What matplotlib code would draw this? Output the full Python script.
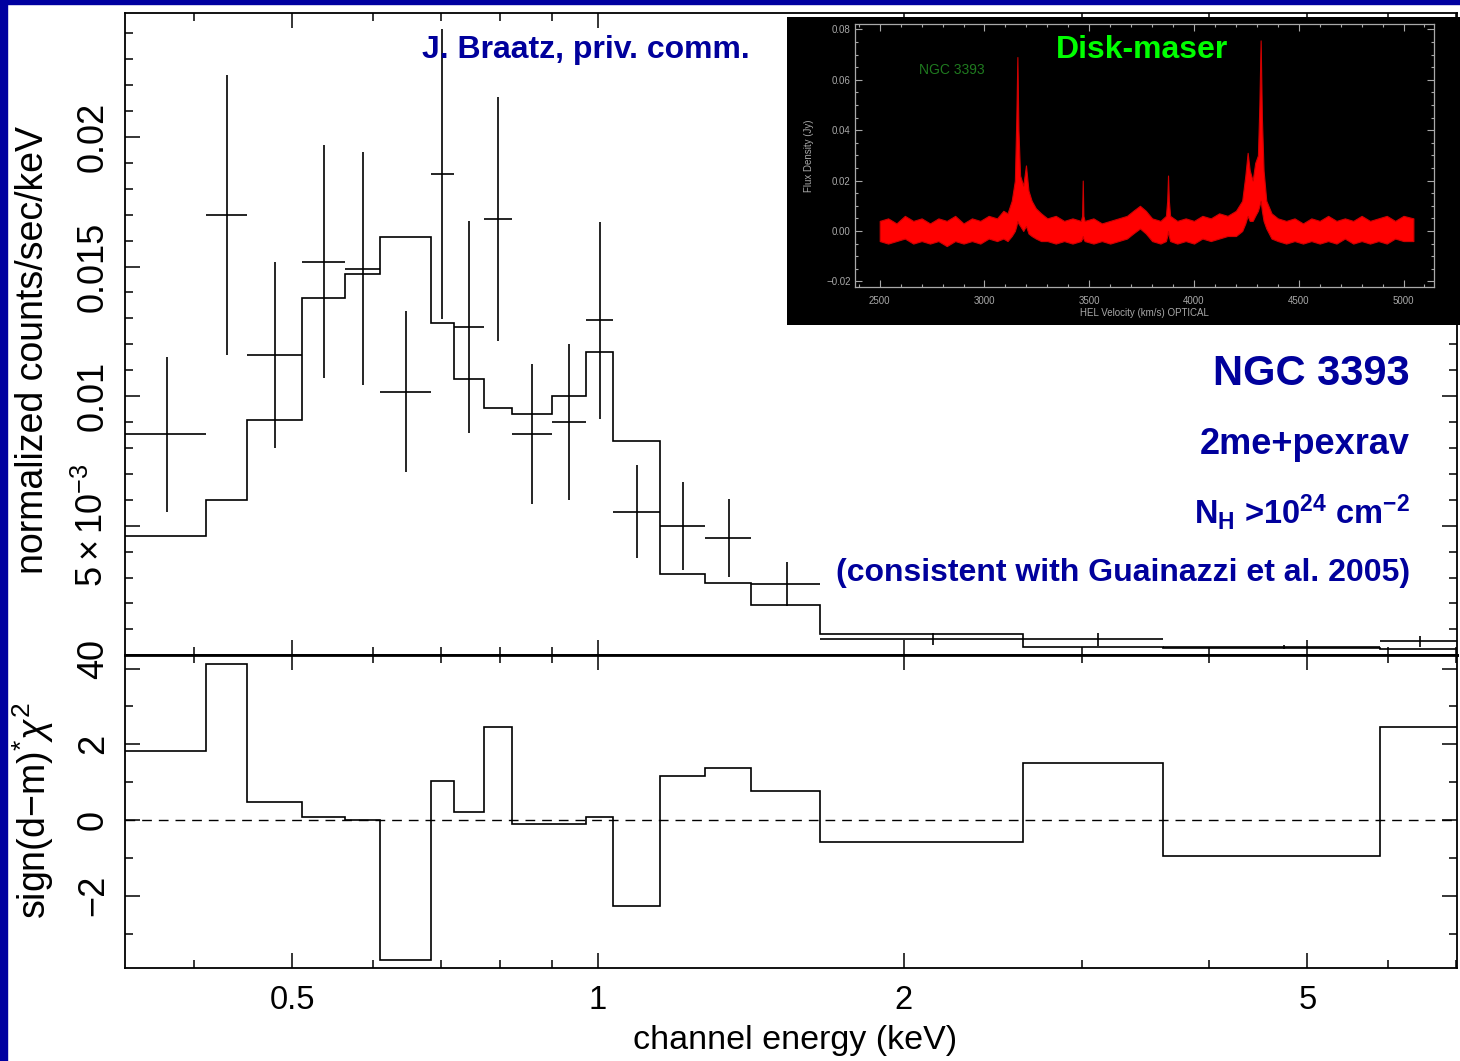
import matplotlib
matplotlib.use("Agg")
import matplotlib.pyplot as plt
from matplotlib.patches import Rectangle
from matplotlib.ticker import FixedLocator, NullFormatter, FixedFormatter
from matplotlib.transforms import ScaledTranslation

plt.rcParams['font.family'] = ['Liberation Sans', 'DejaVu Sans']
plt.rcParams['mathtext.fontset'] = 'custom'
plt.rcParams['mathtext.rm'] = 'Liberation Sans'
plt.rcParams['mathtext.it'] = 'Liberation Sans:italic'
plt.rcParams['mathtext.bf'] = 'Liberation Sans:bold'
plt.rcParams['mathtext.default'] = 'regular'

# XMM spectrum of NGC 3393: channel bins (keV), data, errors, model, residuals
edges = [0.342, 0.411, 0.451, 0.511, 0.563, 0.610, 0.684, 0.721, 0.772, 0.822,
         0.901, 0.973, 1.034, 1.152, 1.276, 1.416, 1.654, 2.62, 3.60, 5.89, 7.02]
counts = [0.00852, 0.01698, 0.01158, 0.01518, 0.01491, 0.01017, 0.01858, 0.01266,
          0.01684, 0.00853, 0.00900, 0.01292, 0.00554, 0.00499, 0.00452, 0.00275,
          0.00063, 0.00061, 0.00031, 0.00054]
counts_err = [0.0030, 0.0054, 0.0036, 0.0045, 0.0045, 0.0031, 0.0056, 0.0041,
              0.0047, 0.0027, 0.0030, 0.0038, 0.0018, 0.0017, 0.0015, 0.00085,
              0.00022, 0.00025, 0.00008, 0.00022]
model = [0.00459, 0.00600, 0.00906, 0.01377, 0.01470, 0.01613, 0.01281, 0.01066,
         0.00956, 0.00931, 0.00999, 0.01172, 0.00826, 0.00314, 0.00280, 0.00195,
         0.00082, 0.00033, 0.00028, 0.00024]
resid = [1.82, 4.13, 0.48, 0.09, 0.01, -3.69, 1.04, 0.22, 2.45, -0.10,
         -0.10, 0.09, -2.27, 1.17, 1.37, 0.77, -0.59, 1.50, -0.96, 2.46]

# maser spectrum (inset): velocity (km/s) and upper / lower envelope of the noisy trace (Jy)
vel = [2500, 2540, 2580, 2620, 2660, 2700, 2740, 2780, 2820, 2860, 2900, 2940, 2980,
       3020, 3060, 3090, 3110, 3130, 3145, 3152, 3157, 3162, 3170, 3185, 3198, 3210,
       3225, 3245, 3270, 3300, 3340, 3380, 3420, 3460, 3466, 3469, 3472, 3478, 3520,
       3560, 3600, 3640, 3680, 3710, 3742, 3770, 3800, 3840, 3866, 3872, 3876, 3880,
       3886, 3920, 3960, 4000, 4040, 4080, 4120, 4160, 4200, 4230, 4245, 4256, 4266,
       4280, 4292, 4305, 4312, 4318, 4324, 4332, 4345, 4370, 4400, 4440, 4480, 4520,
       4560, 4600, 4640, 4680, 4720, 4760, 4800, 4840, 4880, 4920, 4960, 5000, 5047]
flux_hi = [0.004, 0.005, 0.003, 0.006, 0.004, 0.005, 0.003, 0.005, 0.004, 0.006,
           0.003, 0.005, 0.004, 0.006, 0.005, 0.008, 0.007, 0.012, 0.020, 0.045,
           0.069, 0.040, 0.022, 0.018, 0.026, 0.016, 0.012, 0.009, 0.007, 0.005,
           0.006, 0.004, 0.005, 0.004, 0.006, 0.020, 0.006, 0.004, 0.005, 0.003,
           0.004, 0.005, 0.006, 0.008, 0.010, 0.008, 0.005, 0.004, 0.006, 0.012,
           0.022, 0.012, 0.006, 0.004, 0.005, 0.004, 0.006, 0.005, 0.007, 0.006,
           0.008, 0.012, 0.022, 0.031, 0.024, 0.020, 0.027, 0.030, 0.050, 0.0756,
           0.045, 0.024, 0.012, 0.007, 0.005, 0.004, 0.005, 0.003, 0.005, 0.004,
           0.006, 0.004, 0.005, 0.004, 0.006, 0.004, 0.005, 0.006, 0.004, 0.006,
           0.005]
flux_lo = [-0.004, -0.005, -0.004, -0.003, -0.005, -0.004, -0.005, -0.004, -0.006,
           -0.004, -0.005, -0.004, -0.005, -0.003, -0.004, -0.003, -0.004, -0.002,
           0.000, 0.002, 0.004, 0.003, 0.002, 0.000, 0.002, -0.001, -0.002, -0.003,
           -0.004, -0.004, -0.005, -0.004, -0.005, -0.004, -0.003, -0.002, -0.003,
           -0.004, -0.005, -0.004, -0.005, -0.004, -0.003, -0.001, 0.001, -0.001,
           -0.004, -0.005, -0.004, -0.002, 0.000, -0.002, -0.004, -0.005, -0.004,
           -0.005, -0.003, -0.004, -0.003, -0.002, -0.002, 0.000, 0.003, 0.006,
           0.004, 0.004, 0.006, 0.008, 0.010, 0.012, 0.008, 0.004, 0.001, -0.003,
           -0.004, -0.005, -0.004, -0.005, -0.004, -0.005, -0.004, -0.005, -0.003,
           -0.005, -0.004, -0.005, -0.004, -0.005, -0.003, -0.004, -0.004]

W, H = 1460, 1061
fig = plt.figure(figsize=(W / 100, H / 100), dpi=100)
navy = '#00009c'

# blue slide border (top and left)
fig.patches.append(Rectangle((0, 0), 7 / W, 1, transform=fig.transFigure, color='#0000a0', zorder=0))
fig.patches.append(Rectangle((0, 1 - 4 / H), 1, 4 / H, transform=fig.transFigure, color='#0000a0', zorder=0))


def fx(px):
    return px / W


def fy(py):
    return 1 - py / H


x0, x1 = fx(125), fx(1457)
ytop, ymid, ybot = fy(12.5), fy(655.3), fy(968.3)
ax1 = fig.add_axes([x0, ymid, x1 - x0, ytop - ymid])
ax2 = fig.add_axes([x0, ybot, x1 - x0, ymid - ybot], sharex=ax1)

lw = 1.2
centers = [(a + b) / 2 for a, b in zip(edges[:-1], edges[1:])]
xlo = [c - a for c, a in zip(centers, edges[:-1])]
xhi = [b - c for c, b in zip(centers, edges[1:])]

ax1.errorbar(centers, counts, yerr=counts_err, xerr=[xlo, xhi], fmt='none',
             ecolor='black', elinewidth=lw, capsize=0)
ax1.stairs(model, edges, baseline=None, color='black', lw=lw)
ax2.stairs(resid, edges, baseline=None, color='black', lw=lw)
ax2.axhline(0, color='black', lw=1.0, dashes=(7, 5))

ax1.set_xscale('log')
ax1.set_xlim(edges[0], edges[-1])
ax1.set_ylim(0, 0.0248)
ax2.set_ylim(-3.918, 4.351)

for ax in (ax1, ax2):
    for s in ax.spines.values():
        s.set_linewidth(1.3)
    ax.tick_params(which='both', direction='in', top=True, right=True, width=1.1)
    ax.tick_params(which='major', length=11)
    ax.tick_params(which='minor', length=5.5)
    ax.xaxis.set_major_locator(FixedLocator([0.5, 1, 2, 5]))
    ax.xaxis.set_minor_locator(FixedLocator([0.4, 0.6, 0.7, 0.8, 0.9, 3, 4, 6, 7]))
    ax.xaxis.set_minor_formatter(NullFormatter())
ax1.spines['bottom'].set_linewidth(2.0)
ax2.spines['top'].set_linewidth(2.0)

ax1.tick_params(axis='x', labelbottom=False)
ax2.xaxis.set_major_formatter(FixedFormatter(['0.5', '1', '2', '5']))
ax2.tick_params(axis='x', labelsize=23.5, pad=12)

ax1.yaxis.set_major_locator(FixedLocator([0, 0.005, 0.01, 0.015, 0.02]))
ax1.yaxis.set_minor_locator(FixedLocator([i / 1000 for i in range(25)]))
ax1.yaxis.set_major_formatter(FixedFormatter(['0', r'$5\times10^{-3}$', '0.01', '0.015', '0.02']))
ax2.yaxis.set_major_locator(FixedLocator([-2, 0, 2, 4]))
ax2.yaxis.set_minor_locator(FixedLocator([-3, -1, 1, 3]))
ax2.yaxis.set_major_formatter(FixedFormatter(['\u22122', '0', '2', '4']))
for ax in (ax1, ax2):
    ax.tick_params(axis='y', labelsize=26, pad=10)
    for lab in ax.get_yticklabels():
        lab.set_rotation(90)
        lab.set_va('center')
# the "0" of the top panel sits just above the "4" of the residual panel
zero_lab = ax1.get_yticklabels()[0]
zero_lab.set_va('bottom')
zero_lab.set_transform(zero_lab.get_transform() + ScaledTranslation(0, -3 / 72, fig.dpi_scale_trans))

fig.text(fx(33), fy(350), 'normalized counts/sec/keV', rotation=90, fontsize=27,
         ha='center', va='center')
fig.text(fx(33), fy(811), 'sign(d\u2212m)$^{*}\\mathit{\u03c7}^{2}$', rotation=90, fontsize=27,
         ha='center', va='center')
fig.text(fx(795), fy(1040), 'channel energy (keV)', fontsize=24.5, ha='center', va='center')

# annotations
fig.text(fx(750), fy(50), 'J. Braatz, priv. comm.', color=navy, fontsize=23,
         fontweight='bold', ha='right', va='center')
fig.text(fx(1410), fy(374), 'NGC 3393', color=navy, fontsize=30, fontweight='bold',
         ha='right', va='center')
fig.text(fx(1410), fy(444), '2me+pexrav', color=navy, fontsize=26, fontweight='bold',
         ha='right', va='center')
fig.text(fx(1410), fy(512), r'N$_\mathbf{H}$ >10$^\mathbf{24}$ cm$^\mathbf{-2}$', color=navy,
         fontsize=23.5, fontweight='bold', ha='right', va='center')
fig.text(fx(1410), fy(573), '(consistent with Guainazzi et al. 2005)', color=navy,
         fontsize=23, fontweight='bold', ha='right', va='center')

# inset: maser spectrum on black
box = fig.add_axes([fx(787), fy(325), fx(1460) - fx(787), fy(17) - fy(325)], zorder=5)
box.set_facecolor('black')
box.set_xticks([])
box.set_yticks([])
for s in box.spines.values():
    s.set_visible(False)

ins = fig.add_axes([fx(855), fy(286.7), fx(1433.7) - fx(855), fy(24) - fy(286.7)], zorder=6)
ins.set_facecolor('black')
ins.fill_between(vel, flux_lo, flux_hi, color='#ff0000', lw=0.8, edgecolor='#d00000')
ins.set_xlim(2382, 5144)
ins.set_ylim(-0.0221, 0.0821)
grey = '#a8a8a8'
for s in ins.spines.values():
    s.set_color(grey)
    s.set_linewidth(0.9)
ins.xaxis.set_major_locator(FixedLocator([2500, 3000, 3500, 4000, 4500, 5000]))
ins.xaxis.set_minor_locator(FixedLocator([v for v in range(2400, 5150, 100)]))
ins.yaxis.set_major_locator(FixedLocator([-0.02, 0, 0.02, 0.04, 0.06, 0.08]))
ins.yaxis.set_minor_locator(FixedLocator([v / 1000 for v in range(-20, 82, 5)]))
ins.yaxis.set_major_formatter(FixedFormatter(['\u22120.02', '0.00', '0.02', '0.04', '0.06', '0.08']))
ins.tick_params(which='both', direction='in', top=True, right=True, colors=grey,
                labelsize=7, width=0.8)
ins.tick_params(which='major', length=5)
ins.tick_params(axis='x', pad=7)
ins.tick_params(axis='y', pad=3)
ins.tick_params(which='minor', length=2.5)
ins.set_xlabel('HEL Velocity (km/s) OPTICAL', color=grey, fontsize=7, labelpad=1)
ins.set_ylabel('Flux Density (Jy)', color=grey, fontsize=7, labelpad=9)
ins.text(0.11, 0.823, 'NGC 3393', transform=ins.transAxes, color='#1f7a1f', fontsize=10,
         ha='left', va='center')
fig.text(fx(1142), fy(50), 'Disk-maser', color='#00ff00', fontsize=23, fontweight='bold',
         ha='center', va='center', zorder=10)

fig.savefig('out.png', dpi=100)
